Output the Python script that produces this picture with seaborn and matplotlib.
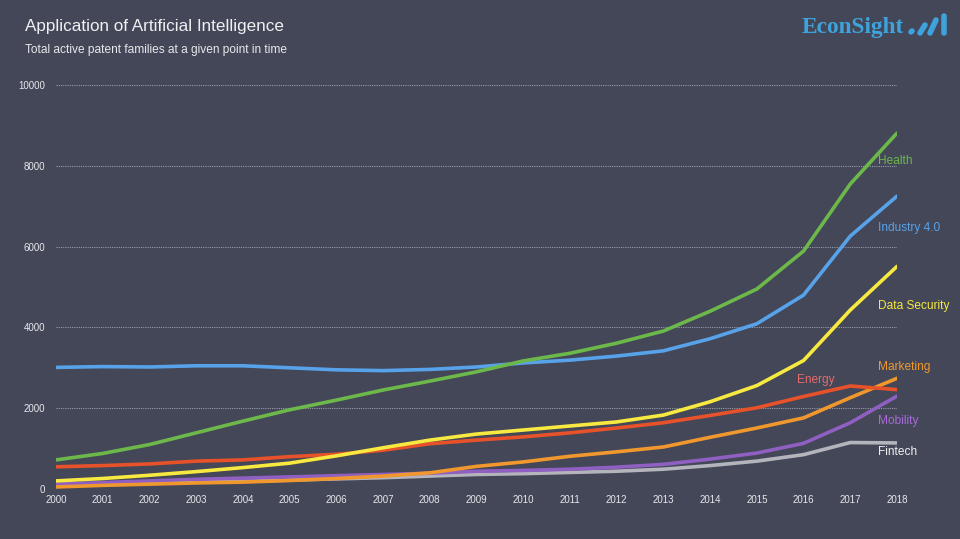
import pandas as pd
import seaborn as sns
import matplotlib.pyplot as plt
from matplotlib.lines import Line2D

# data
years = list(range(2000, 2019))
health = [720, 880, 1100, 1390, 1680, 1960, 2200, 2450, 2670, 2900, 3170, 3360, 3610, 3910, 4400, 4950, 5890, 7550, 8810]
industry = [3010, 3030, 3020, 3050, 3050, 3000, 2950, 2930, 2960, 3020, 3120, 3190, 3290, 3420, 3720, 4090, 4800, 6260, 7250]
data_security = [200, 260, 340, 430, 530, 640, 820, 1020, 1210, 1360, 1460, 1560, 1660, 1830, 2160, 2560, 3180, 4430, 5510]
energy = [550, 580, 620, 690, 720, 800, 860, 960, 1120, 1210, 1290, 1390, 1510, 1640, 1820, 2010, 2290, 2550, 2460]
marketing = [50, 90, 120, 150, 170, 210, 260, 320, 400, 560, 670, 810, 920, 1040, 1280, 1510, 1760, 2260, 2740]
mobility = [120, 160, 200, 240, 270, 300, 330, 360, 390, 440, 460, 490, 540, 610, 740, 890, 1130, 1640, 2300]
fintech = [90, 110, 140, 170, 190, 220, 250, 280, 320, 360, 380, 410, 440, 490, 580, 690, 850, 1150, 1140]

series = {
    "Fintech": fintech,
    "Mobility": mobility,
    "Marketing": marketing,
    "Energy": energy,
    "Data Security": data_security,
    "Industry 4.0": industry,
    "Health": health,
}
colors = {
    "Health": "#6cb84a",
    "Industry 4.0": "#58a2ea",
    "Data Security": "#f7e940",
    "Energy": "#e8522a",
    "Marketing": "#f0982e",
    "Mobility": "#8f5fc2",
    "Fintech": "#b4b4bc",
}
label_colors = dict(colors, Energy="#e86a6a", Mobility="#a86ad8", Fintech="#f0f0f0")
# where the right-hand labels sit (data units)
label_y = {"Health": 8120, "Industry 4.0": 6470, "Data Security": 4540, "Marketing": 3030,
           "Energy": 2700, "Mobility": 1680, "Fintech": 920}

rows = []
for name, vals in series.items():
    for yr, v in zip(years, vals):
        rows.append({"year": yr, "value": v, "field": name})
df = pd.DataFrame(rows)

bg = "#434757"
sns.set_theme(style="dark")
plt.rcParams["font.family"] = ["Liberation Sans", "DejaVu Sans"]

fig = plt.figure(figsize=(9.6, 5.39), dpi=100, facecolor=bg)
ax = fig.add_axes([56 / 960, 50 / 539, 841 / 960, 404 / 539])
ax.set_facecolor(bg)

for y in range(2000, 10001, 2000):
    ax.axhline(y, color="#9a9caa", lw=0.8, ls=(0, (1, 1)), zorder=0)

sns.lineplot(data=df, x="year", y="value", hue="field", palette=colors,
             linewidth=2.6, legend=False, ax=ax, sort=False)

ax.set_xlim(2000, 2018)
ax.set_ylim(0, 10000)
ax.set_xticks(years)
ax.set_xticklabels([str(y) for y in years], fontsize=7, color="#e8e8ec")
ax.set_yticks(range(0, 10001, 2000))
ax.set_yticklabels([str(y) for y in range(0, 10001, 2000)], fontsize=7, color="#e8e8ec")
ax.tick_params(length=0, pad=4)
ax.tick_params(axis="y", pad=8)
ax.set_xlabel("")
ax.set_ylabel("")
for s in ax.spines.values():
    s.set_visible(False)
ax.grid(False)

for name, yv in label_y.items():
    x = 2015.86 if name == "Energy" else 2017.6
    ax.text(x, yv, name, color=label_colors[name], fontsize=8.6, va="center", ha="left",
            clip_on=False)

fig.text(25 / 960, 1 - 27 / 539, "Application of Artificial Intelligence", color="#f0f0f2",
         fontsize=12.3, va="center", ha="left")
fig.text(25 / 960, 1 - 50 / 539, "Total active patent families at a given point in time",
         color="#e8e8ec", fontsize=8.6, va="center", ha="left")

# logo
logo = "#3ea3dc"
fig.text(802 / 960, 1 - 28 / 539, "EconSight", color=logo, fontsize=16.8, fontweight="bold",
         family="Liberation Serif", va="center", ha="left")
for (x0, y0, x1, y1) in [(911, 32, 912, 31), (920, 33, 925, 25), (930, 33, 936, 20), (944, 33, 944, 16)]:
    fig.lines.append(Line2D([x0 / 960, x1 / 960], [1 - y0 / 539, 1 - y1 / 539], lw=4,
                            color=logo, solid_capstyle="round", transform=fig.transFigure))

fig.savefig("out.png", dpi=100, facecolor=bg)
